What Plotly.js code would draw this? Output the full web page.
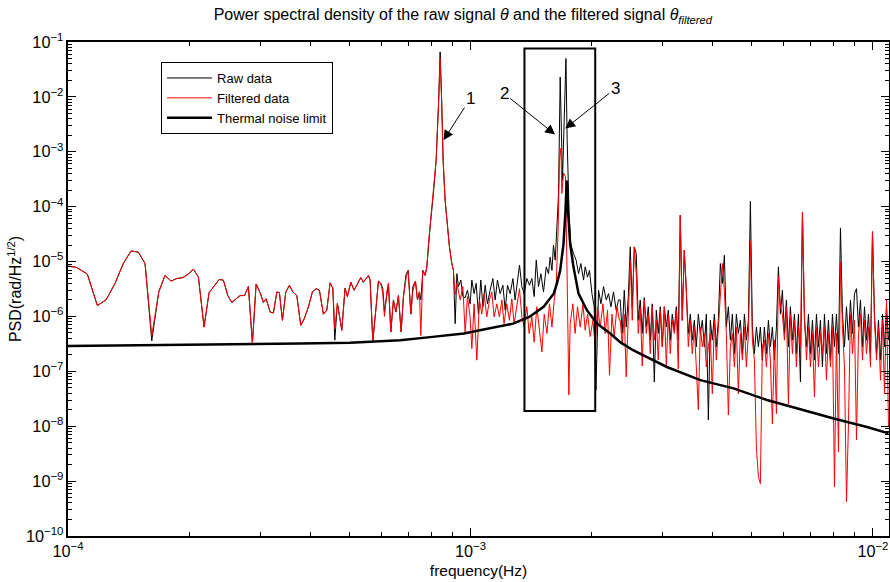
<!DOCTYPE html>
<html><head><meta charset="utf-8">
<script src="https://cdn.plot.ly/plotly-3.0.1.min.js"></script>
<style>html,body{margin:0;padding:0;background:#fff;} #chart{width:890px;height:582px;}</style>
</head><body><div id="chart"></div>
<script>
// ---- Low-frequency segment (raw and filtered share frequencies) ----
const freqA = [1.000e-4,1.051e-4,1.117e-4,1.183e-4,1.243e-4,1.309e-4,1.372e-4,1.434e-4,1.495e-4,1.554e-4,
1.615e-4,1.681e-4,1.742e-4,1.803e-4,1.863e-4,1.928e-4,1.991e-4,2.049e-4,2.109e-4,2.178e-4,
2.241e-4,2.306e-4,2.373e-4,2.432e-4,2.495e-4,2.552e-4,2.612e-4,2.677e-4,2.744e-4,2.807e-4,
2.872e-4,2.934e-4,3.002e-4,3.059e-4,3.107e-4,3.179e-4,3.239e-4,3.303e-4,3.352e-4,3.410e-4,
3.477e-4,3.550e-4,3.619e-4,3.703e-4,3.788e-4,3.867e-4,3.957e-4,4.049e-4,4.135e-4,4.214e-4,
4.311e-4,4.396e-4,4.480e-4,4.550e-4,4.602e-4,4.671e-4,4.790e-4,4.880e-4,4.946e-4,5.043e-4,
5.139e-4,5.219e-4,5.340e-4,5.420e-4,5.495e-4,5.578e-4,5.632e-4,5.720e-4,5.829e-4,5.906e-4,
5.988e-4,6.057e-4,6.113e-4,6.198e-4,6.255e-4,6.341e-4,6.436e-4,6.526e-4,6.623e-4,6.726e-4,
6.816e-4,6.922e-4,7.002e-4,7.111e-4,7.193e-4,7.301e-4,7.385e-4,7.469e-4];
const rawA = [8.3e-6,7.8e-6,5.9e-6,1.58e-6,2.0e-6,4.0e-6,9.2e-6,1.56e-5,1.49e-5,9.2e-6,
3.6e-7,2.8e-6,5.6e-6,4.4e-6,4.9e-6,5.1e-6,5.9e-6,7.3e-6,5.2e-6,6.4e-7,
2.7e-6,3.5e-6,4.7e-6,4.6e-6,2.4e-6,1.8e-6,2.1e-6,2.4e-6,2.4e-6,3.5e-6,
3.3e-7,3.9e-6,2.7e-6,1.8e-6,2.1e-6,1.2e-6,1.16e-6,2.8e-6,2.7e-6,8.5e-7,
2.8e-6,3.7e-6,2.8e-6,2.4e-6,6.9e-7,9.2e-7,1.5e-6,2.8e-6,3.2e-6,3.0e-6,
1.1e-6,1.3e-6,4.1e-6,3.3e-6,3.7e-7,1.74e-6,5.6e-7,3.3e-6,2.3e-6,4.2e-6,
3.0e-6,3.7e-6,5.1e-6,4.2e-6,4.9e-6,5.6e-6,4.6e-6,3.4e-7,1.5e-6,4.4e-6,
4.0e-6,3.2e-6,1.2e-6,2.8e-6,4.0e-6,5.2e-7,2.0e-6,1.2e-6,2.4e-6,5.2e-7,
2.3e-6,6.0e-6,6.9e-6,1.1e-6,3.5e-6,4.4e-6,2.0e-6,2.8e-6];
const filtA = [8.3e-6,7.8e-6,5.9e-6,1.58e-6,2.0e-6,4.0e-6,9.2e-6,1.56e-5,1.49e-5,9.2e-6,
4.5e-7,2.8e-6,5.6e-6,4.4e-6,4.9e-6,5.1e-6,5.9e-6,7.3e-6,5.2e-6,6.4e-7,
2.7e-6,3.5e-6,4.7e-6,4.6e-6,2.4e-6,1.8e-6,2.1e-6,2.4e-6,2.4e-6,3.5e-6,
3.2e-7,3.9e-6,2.7e-6,1.8e-6,2.1e-6,1.2e-6,1.16e-6,2.8e-6,2.7e-6,8.5e-7,
2.8e-6,3.7e-6,2.8e-6,2.4e-6,6.9e-7,9.2e-7,1.5e-6,2.8e-6,3.2e-6,3.0e-6,
1.1e-6,1.3e-6,4.1e-6,3.3e-6,6.0e-7,1.74e-6,5.6e-7,3.3e-6,2.3e-6,4.2e-6,
3.0e-6,3.7e-6,5.1e-6,4.2e-6,4.9e-6,5.6e-6,4.6e-6,3.6e-7,1.5e-6,4.4e-6,
4.0e-6,2.6e-6,1.0e-6,2.8e-6,4.0e-6,5.2e-7,2.0e-6,1.2e-6,2.4e-6,5.2e-7,
2.3e-6,5.0e-6,6.9e-6,1.1e-6,2.9e-6,4.4e-6,2.0e-6,2.8e-6];

// ---- Mid segment: peaks 1, 2, 3 (raw) ----
const rawBFreq = [7.529e-4,7.616e-4,7.717e-4,7.792e-4,7.864e-4,7.940e-4,8.091e-4,8.217e-4,8.337e-4,8.408e-4,
8.482e-4,8.553e-4,8.652e-4,8.752e-4,8.867e-4,8.990e-4,9.072e-4,9.163e-4,9.252e-4,9.338e-4,
9.466e-4,9.575e-4,9.701e-4,9.829e-4,9.980e-4,1.008e-3,1.021e-3,1.033e-3,1.047e-3,1.061e-3,
1.074e-3,1.088e-3,1.102e-3,1.119e-3,1.137e-3,1.152e-3,1.167e-3,1.185e-3,1.204e-3,1.220e-3,
1.236e-3,1.255e-3,1.275e-3,1.291e-3,1.309e-3,1.324e-3,1.342e-3,1.360e-3,1.381e-3,1.402e-3,
1.421e-3,1.440e-3,1.457e-3,1.476e-3,1.496e-3,1.519e-3,1.543e-3,1.563e-3,1.578e-3,1.594e-3,
1.608e-3,1.624e-3,1.640e-3,1.655e-3,1.671e-3,1.693e-3,1.727e-3,1.739e-3,1.759e-3,1.775e-3,
1.803e-3,1.831e-3,1.856e-3,1.881e-3,1.910e-3,1.928e-3,1.954e-3,1.976e-3,2.004e-3,2.030e-3,
2.050e-3,2.081e-3,2.110e-3,2.141e-3,2.175e-3,2.203e-3,2.234e-3,2.267e-3,2.302e-3,2.333e-3];
const rawBVal = [2.0e-6,6.9e-6,5.6e-6,8.0e-6,2.1e-5,4.3e-5,1.75e-4,7.0e-4,8.7e-3,6.6e-2,
8.7e-3,7.0e-4,1.3e-4,4.3e-5,1.85e-5,9.2e-6,6.9e-6,7.4e-7,6.0e-6,3.5e-6,
4.6e-6,2.3e-6,2.2e-6,3.0e-6,1.7e-6,4.6e-6,2.6e-6,4.0e-6,1.1e-6,4.6e-6,
1.5e-6,3.7e-6,1.7e-6,3.0e-6,4.9e-6,2.0e-6,4.6e-6,2.6e-6,3.7e-6,1.3e-6,
3.7e-6,2.6e-6,4.9e-6,2.0e-6,4.6e-6,8.6e-6,3.5e-6,2.6e-6,4.9e-6,3.7e-6,
4.9e-6,2.3e-6,1.06e-5,3.5e-6,6.0e-6,2.8e-6,8.0e-6,6.0e-6,1.2e-5,6.9e-6,
2.0e-5,1.06e-5,4.3e-5,1.7e-4,2.3e-2,3.0e-4,5.0e-2,1.6e-3,7.0e-5,2.1e-5,
1.4e-5,1.06e-5,6.0e-6,9.2e-6,4.6e-6,8.0e-6,5.2e-6,6.9e-6,2.6e-6,1.5e-6,
4.5e-8,3.0e-6,1.7e-6,3.5e-6,2.0e-6,2.6e-6,1.5e-6,2.8e-6,1.3e-6,2.0e-6];

// ---- Mid segment: peaks 1, 2, 3 (filtered) ----
const filtBFreq = [7.529e-4,7.616e-4,7.717e-4,7.792e-4,7.864e-4,7.940e-4,8.091e-4,8.217e-4,8.337e-4,8.408e-4,
8.482e-4,8.553e-4,8.652e-4,8.752e-4,8.867e-4,8.990e-4,9.072e-4,9.163e-4,9.252e-4,9.428e-4,
9.575e-4,9.701e-4,9.829e-4,9.980e-4,1.008e-3,1.021e-3,1.037e-3,1.053e-3,1.067e-3,1.081e-3,
1.098e-3,1.115e-3,1.130e-3,1.145e-3,1.163e-3,1.180e-3,1.197e-3,1.212e-3,1.231e-3,1.250e-3,
1.267e-3,1.284e-3,1.304e-3,1.324e-3,1.342e-3,1.360e-3,1.381e-3,1.399e-3,1.421e-3,1.440e-3,
1.462e-3,1.484e-3,1.505e-3,1.525e-3,1.549e-3,1.572e-3,1.594e-3,1.615e-3,1.633e-3,1.652e-3,
1.664e-3,1.678e-3,1.687e-3,1.703e-3,1.722e-3,1.736e-3,1.756e-3,1.769e-3,1.797e-3,1.820e-3,
1.845e-3,1.874e-3,1.903e-3,1.928e-3,1.954e-3,1.984e-3,2.015e-3,2.042e-3,2.069e-3,2.101e-3,
2.134e-3,2.162e-3,2.191e-3,2.216e-3,2.247e-3,2.276e-3,2.312e-3,2.346e-3];
const filtBVal = [4.5e-7,6.9e-6,5.6e-6,8.0e-6,2.1e-5,4.3e-5,1.75e-4,7.0e-4,8.0e-3,5.0e-2,
8.0e-3,7.0e-4,1.3e-4,4.3e-5,1.85e-5,9.2e-6,6.9e-6,2.5e-6,4.0e-6,2.0e-6,
3.5e-6,4.9e-7,2.3e-6,9.8e-7,2.6e-7,1.7e-6,1.6e-7,2.0e-6,1.1e-6,2.6e-6,
9.8e-7,2.0e-6,2.8e-6,9.8e-7,1.7e-6,9.8e-7,2.0e-6,7.4e-7,1.7e-6,8.5e-7,
2.1e-6,7.4e-7,1.5e-6,3.2e-6,9.8e-7,6.4e-7,1.5e-6,4.9e-7,9.8e-7,3.4e-7,
1.5e-6,5.6e-7,2.25e-7,1.1e-6,4.9e-7,1.7e-6,6.4e-7,2.0e-6,3.5e-6,4.3e-5,
7.0e-4,1.16e-3,1.75e-4,4.1e-4,3.5e-4,1.06e-5,3.7e-8,7.4e-7,1.7e-6,4.9e-7,
1.5e-6,6.4e-7,1.7e-6,5.6e-7,1.1e-6,4.3e-7,8.5e-7,2.8e-7,1.5e-6,6.4e-7,
1.7e-6,4.9e-7,1.3e-6,8.5e-8,1.1e-6,4.3e-7,1.5e-6,8.5e-7];

// ---- High-frequency segment (shared frequencies) ----
const freqC = [2.356e-3,2.383e-3,2.411e-3,2.438e-3,2.467e-3,
2.495e-3,2.524e-3,2.553e-3,2.582e-3,2.612e-3,
2.642e-3,2.672e-3,2.703e-3,2.734e-3,2.766e-3,
2.798e-3,2.830e-3,2.863e-3,2.896e-3,2.929e-3,
2.963e-3,2.997e-3,3.032e-3,3.067e-3,3.102e-3,
3.137e-3,3.173e-3,3.210e-3,3.247e-3,3.284e-3,
3.322e-3,3.360e-3,3.399e-3,3.438e-3,3.478e-3,
3.518e-3,3.558e-3,3.600e-3,3.641e-3,3.683e-3,
3.726e-3,3.769e-3,3.812e-3,3.856e-3,3.901e-3,
3.945e-3,3.990e-3,4.037e-3,4.083e-3,4.130e-3,
4.178e-3,4.226e-3,4.275e-3,4.324e-3,4.374e-3,
4.424e-3,4.475e-3,4.527e-3,4.579e-3,4.631e-3,
4.685e-3,4.739e-3,4.794e-3,4.849e-3,4.905e-3,
4.961e-3,5.018e-3,5.076e-3,5.135e-3,5.194e-3,
5.253e-3,5.313e-3,5.375e-3,5.437e-3,5.500e-3,
5.563e-3,5.627e-3,5.692e-3,5.758e-3,5.824e-3,
5.891e-3,5.959e-3,6.028e-3,6.097e-3,6.167e-3,
6.238e-3,6.310e-3,6.383e-3,6.456e-3,6.531e-3,
6.606e-3,6.682e-3,6.759e-3,6.837e-3,6.916e-3,
6.995e-3,7.076e-3,7.157e-3,7.240e-3,7.324e-3,
7.407e-3,7.492e-3,7.579e-3,7.666e-3,7.754e-3,
7.844e-3,7.934e-3,8.026e-3,8.118e-3,8.212e-3,
8.306e-3,8.402e-3,8.499e-3,8.597e-3,8.696e-3,
8.796e-3,8.897e-3,9.000e-3,9.104e-3,9.208e-3,
9.314e-3,9.421e-3,9.530e-3,9.640e-3,9.751e-3,
9.863e-3,9.976e-3,1.0091e-2,1.0208e-2,1.0325e-2,
1.0445e-2,1.0565e-2,1.0687e-2,1.0810e-2,1.0934e-2];
const rawC = [2.0e-6,4.9e-7,3.0e-6,6.4e-7,2.2e-6,
1.85e-5,1.5e-6,1.85e-5,1.4e-5,8.5e-7,
2.0e-6,4.9e-7,2.2e-6,6.4e-7,1.5e-6,
3.7e-7,1.7e-6,6.4e-8,1.3e-6,4.9e-7,
1.5e-6,2.8e-7,1.5e-6,6.4e-7,1.3e-6,
3.7e-7,1.1e-6,5.6e-7,1.5e-6,3.7e-7,
7.0e-5,8.5e-7,1.6e-5,2.0e-6,4.9e-7,
1.1e-6,3.7e-7,8.5e-7,2.8e-7,1.1e-6,
4.9e-7,8.5e-7,2.8e-7,1.1e-6,1.3e-8,
8.5e-7,3.7e-7,1.1e-6,2.8e-7,8.5e-7,
9.2e-6,4.0e-6,1.3e-5,6.4e-7,1.5e-6,
3.7e-7,1.1e-6,2.1e-7,1.1e-6,4.9e-7,
8.5e-7,2.1e-7,1.1e-6,3.7e-7,8.5e-7,
1.25e-4,6.4e-7,2.1e-7,6.4e-7,2.8e-7,
6.4e-7,1.6e-7,6.4e-7,2.1e-7,8.5e-7,
2.8e-7,6.4e-7,1.6e-7,6.4e-7,8.0e-6,
1.1e-6,3.0e-6,4.9e-7,2.0e-6,2.8e-7,
1.5e-6,3.7e-7,1.1e-6,2.1e-7,1.1e-6,
6.4e-8,8.0e-5,8.5e-7,2.8e-7,1.1e-6,
2.1e-7,8.5e-7,1.6e-7,1.1e-6,2.8e-7,
8.5e-7,1.2e-7,1.1e-6,2.1e-7,8.5e-7,
1.6e-7,1.1e-6,2.8e-7,1.1e-6,2.1e-7,
4.1e-5,1.1e-6,2.8e-7,1.5e-6,3.7e-7,
2.0e-6,4.9e-7,2.6e-6,3.2e-6,6.4e-7,
2.0e-6,2.8e-7,1.5e-6,3.7e-7,1.1e-6,
2.1e-7,3.5e-5,1.1e-6,2.1e-7,8.5e-7,
1.6e-7,1.1e-6,2.8e-7,1.5e-6,3.7e-7];
const filtC = [8.5e-7,3.0e-7,1.1e-6,7.9e-8,1.5e-6,
1.06e-5,8.5e-7,1.85e-5,6.0e-6,4.9e-7,
1.5e-6,1.25e-7,2.0e-6,4.9e-7,1.1e-6,
2.1e-7,1.5e-6,3.7e-7,8.5e-7,1.6e-7,
1.3e-6,2.8e-7,1.5e-6,1.2e-7,1.1e-6,
2.1e-7,8.5e-7,4.9e-7,1.3e-6,1.1e-7,
7.0e-5,8.5e-7,1.6e-5,3.5e-6,2.8e-7,
8.5e-7,2.1e-7,6.4e-7,1.2e-7,2.0e-8,
6.4e-7,2.8e-7,4.9e-7,1.2e-7,2.8e-7,
4.9e-7,3.9e-8,8.5e-7,1.6e-7,6.4e-7,
2.0e-6,9.2e-6,3.0e-6,4.9e-7,1.6e-8,
2.8e-7,4.9e-7,1.2e-7,6.4e-7,3.9e-8,
4.9e-7,1.6e-7,6.4e-7,1.2e-7,4.9e-7,
2.3e-5,3.7e-7,1.6e-7,4.0e-9,1.2e-9,
9.0e-10,2.8e-7,3.7e-7,1.2e-7,4.9e-7,
1.6e-7,1.1e-8,3.7e-7,1.7e-8,5.2e-6,
1.5e-6,1.1e-6,3.7e-7,1.5e-6,2.5e-8,
1.1e-6,2.1e-7,8.5e-7,1.2e-7,6.4e-7,
2.8e-7,8.0e-5,1.1e-6,1.6e-7,6.4e-7,
1.2e-7,4.9e-7,3.4e-8,6.4e-7,1.2e-7,
4.9e-7,2.1e-7,6.4e-7,6.9e-8,4.9e-7,
1.2e-7,6.4e-7,7.8e-10,4.9e-7,3.4e-9,
9.8e-6,6.4e-7,1.2e-7,4.2e-10,1.1e-8,
1.1e-6,2.1e-7,8.5e-7,5.6e-9,4.9e-7,
1.1e-6,1.6e-7,8.5e-7,2.1e-7,6.4e-7,
1.2e-7,3.5e-5,8.5e-7,1.6e-7,6.4e-7,
6.9e-8,8.5e-7,3.9e-8,2.0e-6,9.7e-9];

// ---- Thermal noise limit ----
const thermF = [1.0e-4,1.6e-4,2.835e-4,3.77e-4,5.02e-4,6.69e-4,7.94e-4,9.63e-4,1.055e-3,1.167e-3,
1.276e-3,1.40e-3,1.52e-3,1.61e-3,1.640e-3,1.671e-3,1.703e-3,1.722e-3,1.735e-3,1.748e-3,
1.769e-3,1.803e-3,1.831e-3,1.856e-3,1.947e-3,2.062e-3,2.225e-3,2.356e-3,2.542e-3,3.077e-3,
3.726e-3,4.506e-3,5.456e-3,6.606e-3,7.988e-3,9.667e-3,1.094e-2];
const thermP = [2.9e-7,3.0e-7,3.05e-7,3.2e-7,3.3e-7,3.7e-7,4.2e-7,4.9e-7,5.6e-7,6.4e-7,
7.4e-7,9.8e-7,1.5e-6,2.6e-6,4.0e-6,6.9e-6,2.1e-5,8.0e-5,3.0e-4,8.0e-5,
2.1e-5,8.0e-6,4.2e-6,2.6e-6,1.3e-6,7.4e-7,4.9e-7,3.4e-7,2.4e-7,1.2e-7,
6.9e-8,4.9e-8,3.0e-8,2.0e-8,1.38e-8,9.7e-9,7.4e-9];

const seriesNames = ['Raw data', 'Filtered data', 'Thermal noise limit'];
const boxFreq = [1.362e-3, 2.042e-3];
const boxPSD = [1.9e-8, 7.58e-2];
const markLabels = ['1', '2', '3'];

const traces = [
  {x: freqA.concat(rawBFreq, freqC), y: rawA.concat(rawBVal, rawC), type: 'scatter', mode: 'lines',
   name: seriesNames[0], line: {color: '#000000', width: 1}},
  {x: freqA.concat(filtBFreq, freqC), y: filtA.concat(filtBVal, filtC), type: 'scatter', mode: 'lines',
   name: seriesNames[1], line: {color: '#ff0000', width: 1}},
  {x: thermF, y: thermP, type: 'scatter', mode: 'lines',
   name: seriesNames[2], line: {color: '#000000', width: 2.5}}
];

const FONT = 'Liberation Sans, Arial, Helvetica, sans-serif';
const axisCommon = {
  type: 'log', dtick: 1, exponentformat: 'power', showline: true, linewidth: 2, linecolor: '#000',
  mirror: 'allticks', ticks: 'inside', ticklen: 8, tickwidth: 1, tickcolor: '#000',
  showgrid: false, zeroline: false, tickfont: {size: 13, family: FONT, color: '#000'},
  minor: {ticks: 'inside', ticklen: 4, tickwidth: 1, tickcolor: '#000', dtick: 'D1', showgrid: false}
};

const arrowCommon = {xref: 'x', yref: 'y', showarrow: true, arrowhead: 2, arrowsize: 2, arrowwidth: 1,
  arrowcolor: '#000', standoff: 0, startstandoff: 0, font: {size: 17, family: FONT, color: '#000'}};

const layout = {
  width: 890, height: 582,
  margin: {l: 68, r: 1, t: 42, b: 46, pad: 0},
  paper_bgcolor: '#fff', plot_bgcolor: '#fff',
  font: {family: FONT, size: 13, color: '#000'},
  showlegend: true,
  title: {text: 'Power spectral density of the raw signal <i>θ</i> and the filtered signal <i>θ</i><sub><i>filtered</i></sub>',
          font: {size: 16, family: FONT, color: '#000'}, xref: 'container', x: 0.52, xanchor: 'center',
          yref: 'container', y: 0.975, yanchor: 'middle'},
  xaxis: Object.assign({}, axisCommon, {range: [-4, -1.96],
          title: {text: 'frequency(Hz)', font: {size: 15.5, family: FONT}, standoff: 6}}),
  yaxis: Object.assign({}, axisCommon, {range: [-10, -1],
          title: {text: 'PSD(rad/Hz<sup>1/2</sup>)', font: {size: 16, family: FONT}, standoff: 0}}),
  legend: {x: 0.1133, y: 0.9595, xanchor: 'left', yanchor: 'top', bgcolor: '#fff', bordercolor: '#000',
           borderwidth: 1, font: {size: 13, family: FONT, color: '#000'}, itemwidth: 45, tracegroupgap: 0},
  shapes: [{type: 'rect', xref: 'x', yref: 'y', x0: boxFreq[0], x1: boxFreq[1], y0: boxPSD[0], y1: boxPSD[1],
            line: {color: '#000', width: 2}, fillcolor: 'rgba(0,0,0,0)'}],
  annotations: [
    Object.assign({}, arrowCommon, {text: markLabels[0], x: -3.0671, y: -2.7905, ax: 27, ay: -42}),
    Object.assign({}, arrowCommon, {text: markLabels[1], x: -2.7895, y: -2.6867, ax: -51, ay: -41}),
    Object.assign({}, arrowCommon, {text: markLabels[2], x: -2.7646, y: -2.5774, ax: 50, ay: -40})
  ]
};

Plotly.newPlot('chart', traces, layout, {displayModeBar: false, responsive: false});
</script></body></html>
